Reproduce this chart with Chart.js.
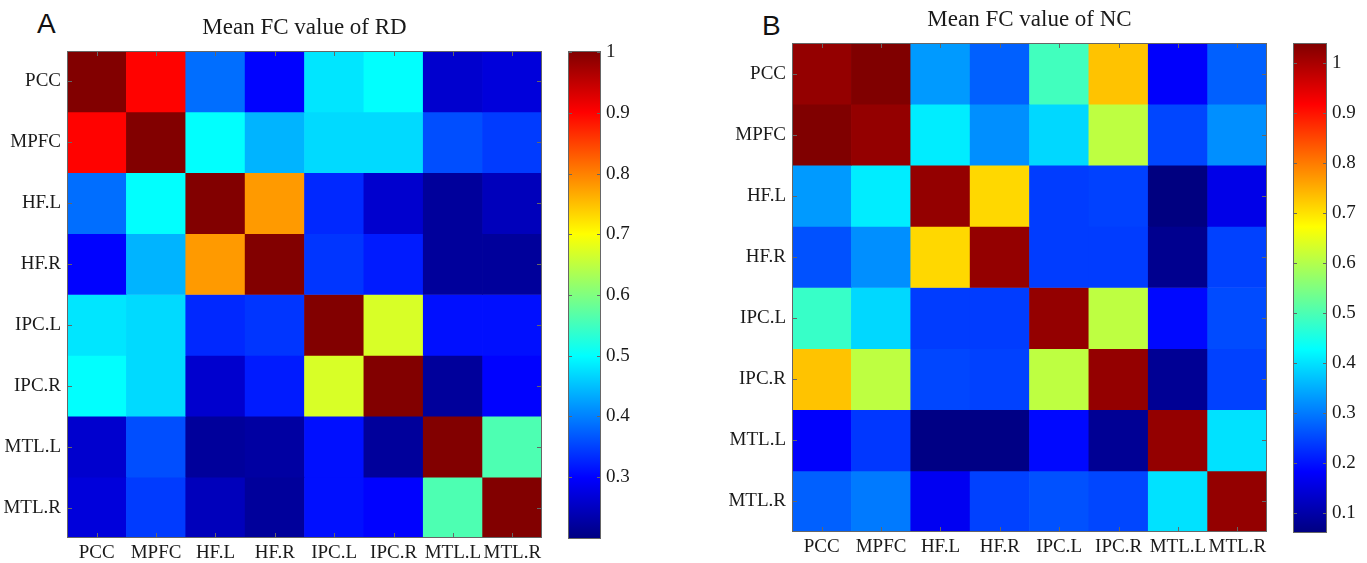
<!DOCTYPE html>
<html>
<head>
<meta charset="utf-8">
<title>Mean FC value of RD / NC</title>
<script src="https://cdn.jsdelivr.net/npm/chart.js@4.4.0/dist/chart.umd.min.js"></script>
<style>
  html, body { margin: 0; padding: 0; background: #fff; }
  #page { position: relative; width: 1367px; height: 563px; overflow: hidden; }
  .box { position: absolute; top: 0; height: 563px; }
  .letter { position: absolute; font-family: "Liberation Sans", Arial, sans-serif; font-size: 28px; line-height: 1; color: #111; }
</style>
</head>
<body>
<div id="page">
  <div class="letter" style="left:37px;top:10px">A</div>
  <div class="letter" style="left:762px;top:12px">B</div>
  <div class="box" style="left:0;width:560px"><canvas id="heatRD"></canvas></div>
  <div class="box" style="left:568px;width:72px"><canvas id="barRD"></canvas></div>
  <div class="box" style="left:720px;width:560px"><canvas id="heatNC"></canvas></div>
  <div class="box" style="left:1293px;width:74px"><canvas id="barNC"></canvas></div>
</div>
<script>
// ---- data ----
const REGIONS = ['PCC', 'MPFC', 'HF.L', 'HF.R', 'IPC.L', 'IPC.R', 'MTL.L', 'MTL.R'];

// panel A – remitted depression (RD)
const FC_RD = [
    [1.00, 0.90, 0.385, 0.30, 0.48, 0.50, 0.26, 0.27],
    [0.90, 1.00, 0.50, 0.44, 0.47, 0.47, 0.36, 0.345],
    [0.385, 0.50, 1.00, 0.78, 0.33, 0.26, 0.22, 0.245],
    [0.30, 0.44, 0.78, 1.00, 0.34, 0.32, 0.22, 0.22],
    [0.48, 0.47, 0.33, 0.34, 1.00, 0.67, 0.31, 0.31],
    [0.50, 0.47, 0.26, 0.32, 0.67, 1.00, 0.22, 0.30],
    [0.26, 0.36, 0.22, 0.225, 0.31, 0.22, 1.00, 0.56],
    [0.27, 0.345, 0.245, 0.22, 0.31, 0.30, 0.56, 1.00],
];
const CLIM_RD  = [0.198, 1.002];
const TICKS_RD = [0.3, 0.4, 0.5, 0.6, 0.7, 0.8, 0.9, 1];

// panel B – normal controls (NC)
const FC_NC = [
    [1.02, 1.04, 0.33, 0.275, 0.49, 0.73, 0.18, 0.275],
    [1.04, 1.02, 0.41, 0.32, 0.39, 0.61, 0.25, 0.32],
    [0.33, 0.41, 1.02, 0.71, 0.24, 0.245, 0.06, 0.16],
    [0.26, 0.32, 0.71, 1.02, 0.24, 0.24, 0.075, 0.245],
    [0.48, 0.39, 0.24, 0.24, 1.02, 0.61, 0.19, 0.255],
    [0.73, 0.61, 0.25, 0.245, 0.61, 1.02, 0.08, 0.245],
    [0.18, 0.235, 0.065, 0.065, 0.19, 0.08, 1.02, 0.40],
    [0.275, 0.30, 0.17, 0.245, 0.26, 0.25, 0.40, 1.02],
];
const CLIM_NC  = [0.06, 1.04];
const TICKS_NC = [0.1, 0.2, 0.3, 0.4, 0.5, 0.6, 0.7, 0.8, 0.9, 1];

// ---- helpers ----
const SERIF = "'Liberation Serif', 'Times New Roman', serif";
const INK = '#1a1a1a';

// matlab "jet" colormap
function jet(t) {
    t = Math.min(1, Math.max(0, t));
    const c = x => Math.round(255 * Math.min(1, Math.max(0, x)));
    return `rgb(${c(1.5 - Math.abs(4 * t - 3))},${c(1.5 - Math.abs(4 * t - 2))},${c(1.5 - Math.abs(4 * t - 1))})`;
}

// box around the axes + inward tick marks, like matlab
const matlabFrame = {
    id: 'matlabFrame',
    afterDatasetsDraw(chart, args, opts) {
        const { ctx, chartArea: a, scales } = chart;
        const len = opts.len || 5;
        ctx.save();
        ctx.strokeStyle = opts.color || '#555';
        ctx.lineWidth = 1;
        ctx.beginPath();
        if (opts.xTicks) {
            scales.x.ticks.forEach((t, i) => {
                const px = Math.round(scales.x.getPixelForTick(i)) + 0.5;
                ctx.moveTo(px, a.bottom); ctx.lineTo(px, a.bottom - len);
                ctx.moveTo(px, a.top);    ctx.lineTo(px, a.top + len);
            });
        }
        scales.y.ticks.forEach((t, i) => {
            const py = Math.round(scales.y.getPixelForTick(i)) + 0.5;
            ctx.moveTo(a.left, py);  ctx.lineTo(a.left + len, py);
            ctx.moveTo(a.right, py); ctx.lineTo(a.right - len, py);
        });
        ctx.stroke();
        ctx.strokeRect(a.left + 0.5, a.top + 0.5, a.width - 1, a.height - 1);
        ctx.restore();
    }
};

function heatmap(id, title, matrix, clim, o) {
    const [lo, hi] = clim;
    new Chart(document.getElementById(id), {
        type: 'bar',
        data: {
            labels: REGIONS,
            // one stacked dataset per row, each cell one unit tall, coloured by its FC value
            datasets: matrix.map((row, r) => ({
                label: REGIONS[r],
                data: row.map(() => 1),
                backgroundColor: row.map(v => jet((v - lo) / (hi - lo))),
                borderWidth: 0,
                barPercentage: 1,
                categoryPercentage: 1,
            })),
        },
        options: {
            responsive: true, maintainAspectRatio: false, animation: false,
            layout: { padding: { top: 0, right: o.padRight, bottom: o.padBottom, left: 0 } },
            plugins: {
                legend: { display: false },
                tooltip: { enabled: false },
                title: {
                    display: true, text: title, fullSize: false, color: INK,
                    font: { family: SERIF, size: 23, weight: 'normal', lineHeight: 1.2 },
                    padding: { top: o.titleTop, bottom: o.titleBottom },
                },
                matlabFrame: { xTicks: true, color: '#666' },
            },
            scales: {
                x: {
                    stacked: true,
                    grid: { display: false, drawTicks: false }, border: { display: false },
                    ticks: { color: INK, font: { family: SERIF, size: 19 }, padding: 4, maxRotation: 0, autoSkip: false },
                    afterFit: ax => { ax.height = 25; },
                },
                y: {
                    stacked: true, reverse: true, min: 0, max: REGIONS.length,
                    grid: { display: false, drawTicks: false }, border: { display: false },
                    afterBuildTicks: ax => { ax.ticks = REGIONS.map((_, i) => ({ value: i + 0.5 })); },
                    ticks: { color: INK, font: { family: SERIF, size: 19 }, padding: 6,
                             callback: v => REGIONS[Math.floor(v)] },
                    afterFit: ax => { ax.width = o.yWidth; },
                },
            },
        },
        plugins: [matlabFrame],
    });
}

function colorbar(id, clim, ticks, o) {
    const [lo, hi] = clim;
    new Chart(document.getElementById(id), {
        type: 'bar',
        data: {
            labels: [''],
            datasets: [{
                data: [[lo, hi]],
                borderWidth: 0, barPercentage: 1, categoryPercentage: 1,
                backgroundColor: c => {
                    const area = c.chart.chartArea;
                    if (!area) return '#888';
                    const g = c.chart.ctx.createLinearGradient(0, area.bottom, 0, area.top);
                    for (let i = 0; i <= 64; i++) g.addColorStop(i / 64, jet(i / 64));
                    return g;
                },
            }],
        },
        options: {
            responsive: true, maintainAspectRatio: false, animation: false,
            layout: { padding: { top: o.top, bottom: o.bottom, left: 0, right: 0 } },
            plugins: {
                legend: { display: false }, tooltip: { enabled: false },
                matlabFrame: { xTicks: false, len: 4, color: '#666' },
            },
            scales: {
                x: { display: false },
                y: {
                    position: 'right', min: lo, max: hi,
                    grid: { display: false, drawTicks: false }, border: { display: false },
                    afterBuildTicks: ax => { ax.ticks = ticks.map(v => ({ value: v })); },
                    ticks: { color: INK, font: { family: SERIF, size: 19 }, padding: 5,
                             callback: v => String(+v.toFixed(1)) },
                    afterFit: ax => { ax.width = o.yWidth; },
                },
            },
        },
        plugins: [matlabFrame],
    });
}

heatmap('heatRD', 'Mean FC value of RD', FC_RD, CLIM_RD, { yWidth: 67, padRight: 18, padBottom: 0, titleTop: 14, titleBottom: 9.4 });
colorbar('barRD', CLIM_RD, TICKS_RD, { top: 51, bottom: 24, yWidth: 39 });
heatmap('heatNC', 'Mean FC value of NC', FC_NC, CLIM_NC, { yWidth: 72, padRight: 13, padBottom: 6, titleTop: 6, titleBottom: 9.4 });
colorbar('barNC', CLIM_NC, TICKS_NC, { top: 43, bottom: 30, yWidth: 40 });
</script>
</body>
</html>
